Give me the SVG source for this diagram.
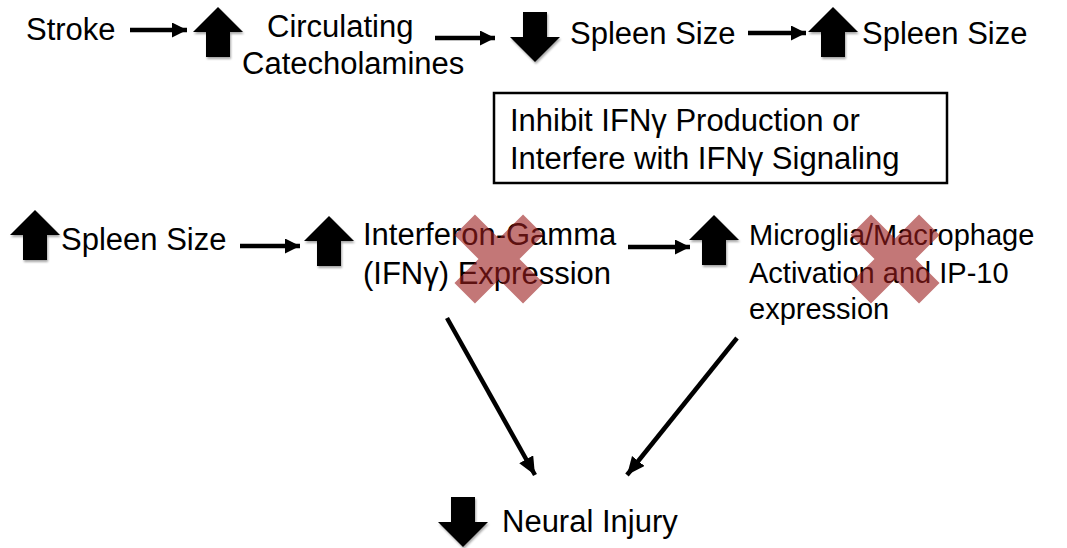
<svg xmlns="http://www.w3.org/2000/svg" xmlns:xlink="http://www.w3.org/1999/xlink" width="1067" height="548" viewBox="0 0 1067 548">
<style>
  text { font-family: "Liberation Sans", Arial, sans-serif; font-size: 31px; fill: #000; }
  .sm { font-size: 29px; }
  .conn { stroke: #000; stroke-width: 4.5; fill: none; }
  .blk { fill: #000; }
  .xm { fill: #9b1c1c; fill-opacity: 0.6; }
  .box { fill: none; stroke: #000; stroke-width: 2.5; }
</style>
<defs>
  <marker id="ah" markerUnits="userSpaceOnUse" markerWidth="16" markerHeight="16" refX="15" refY="7.5" orient="auto">
    <path d="M0,0 L15,7.5 L0,15 Z" fill="#000"/>
  </marker>
  <marker id="ah2" markerUnits="userSpaceOnUse" markerWidth="20" markerHeight="20" refX="18" refY="8" orient="auto">
    <path d="M0,0 L18,8 L0,16 Z" fill="#000"/>
  </marker>
  <filter id="sh" x="-30%" y="-30%" width="160%" height="160%">
    <feDropShadow dx="1" dy="2" stdDeviation="1" flood-color="#000" flood-opacity="0.35"/>
  </filter>
  <path id="up" d="M0,0 L25,25 L12,25 L12,50 L-12,50 L-12,25 L-25,25 Z"/>
  <path id="down" d="M-12,0 L12,0 L12,25 L25,25 L0,50 L-25,25 L-12,25 Z"/>
  <path id="xmark" d="M-14.5,-48.5 L14.5,-48.5 L14.5,-14.5 L48.5,-14.5 L48.5,14.5 L14.5,14.5 L14.5,48.5 L-14.5,48.5 L-14.5,14.5 L-48.5,14.5 L-48.5,-14.5 L-14.5,-14.5 Z"/>
</defs>
<rect width="1067" height="548" fill="#fff"/>

<g id="stroke"><text x="26" y="40">Stroke</text></g>
<g id="up-catecholamines">
  <use xlink:href="#up" class="blk" filter="url(#sh)" transform="translate(218,7)"/>
  <text x="267" y="37">Circulating</text>
  <text x="242" y="74">Catecholamines</text>
</g>
<g id="down-spleen">
  <use xlink:href="#down" class="blk" filter="url(#sh)" transform="translate(535,12)"/>
  <text x="570" y="44">Spleen Size</text>
</g>
<g id="up-spleen-top">
  <use xlink:href="#up" class="blk" filter="url(#sh)" transform="translate(833,7)"/>
  <text x="862" y="44">Spleen Size</text>
</g>
<g id="inhibit-box">
  <rect class="box" x="494" y="93" width="453" height="90"/>
  <text x="510" y="131">Inhibit IFNγ Production or</text>
  <text x="510" y="169">Interfere with IFNγ Signaling</text>
</g>
<g id="up-spleen">
  <use xlink:href="#up" class="blk" filter="url(#sh)" transform="translate(35,210)"/>
  <text x="61" y="250">Spleen Size</text>
</g>
<g id="up-ifng">
  <use xlink:href="#up" class="blk" filter="url(#sh)" transform="translate(329,216)"/>
  <text x="363" y="245">Interferon-Gamma</text>
  <text x="363" y="284">(IFNγ) Expression</text>
  <use xlink:href="#xmark" class="xm" transform="translate(499,259) rotate(45)"/>
</g>
<g id="up-microglia">
  <use xlink:href="#up" class="blk" filter="url(#sh)" transform="translate(714,215)"/>
  <text class="sm" x="749" y="245">Microglia/Macrophage</text>
  <text class="sm" x="749" y="283">Activation and IP-10</text>
  <text class="sm" x="749" y="319">expression</text>
  <use xlink:href="#xmark" class="xm" transform="translate(895,259) rotate(45)"/>
</g>
<g id="down-neural">
  <use xlink:href="#down" class="blk" filter="url(#sh)" transform="translate(463,497)"/>
  <text x="502" y="532">Neural Injury</text>
</g>

<g id="connectors">
  <line class="conn" x1="130" y1="30" x2="187" y2="30" marker-end="url(#ah)"/>
  <line class="conn" x1="435" y1="38" x2="495" y2="38" marker-end="url(#ah)"/>
  <line class="conn" x1="748" y1="33" x2="806" y2="33" marker-end="url(#ah)"/>
  <line class="conn" x1="240" y1="246" x2="300" y2="246" marker-end="url(#ah)"/>
  <line class="conn" x1="628" y1="247" x2="690" y2="247" marker-end="url(#ah)"/>
  <line class="conn" x1="447" y1="318" x2="535" y2="475" marker-end="url(#ah2)"/>
  <line class="conn" x1="737" y1="338" x2="627" y2="475" marker-end="url(#ah2)"/>
</g>
</svg>
